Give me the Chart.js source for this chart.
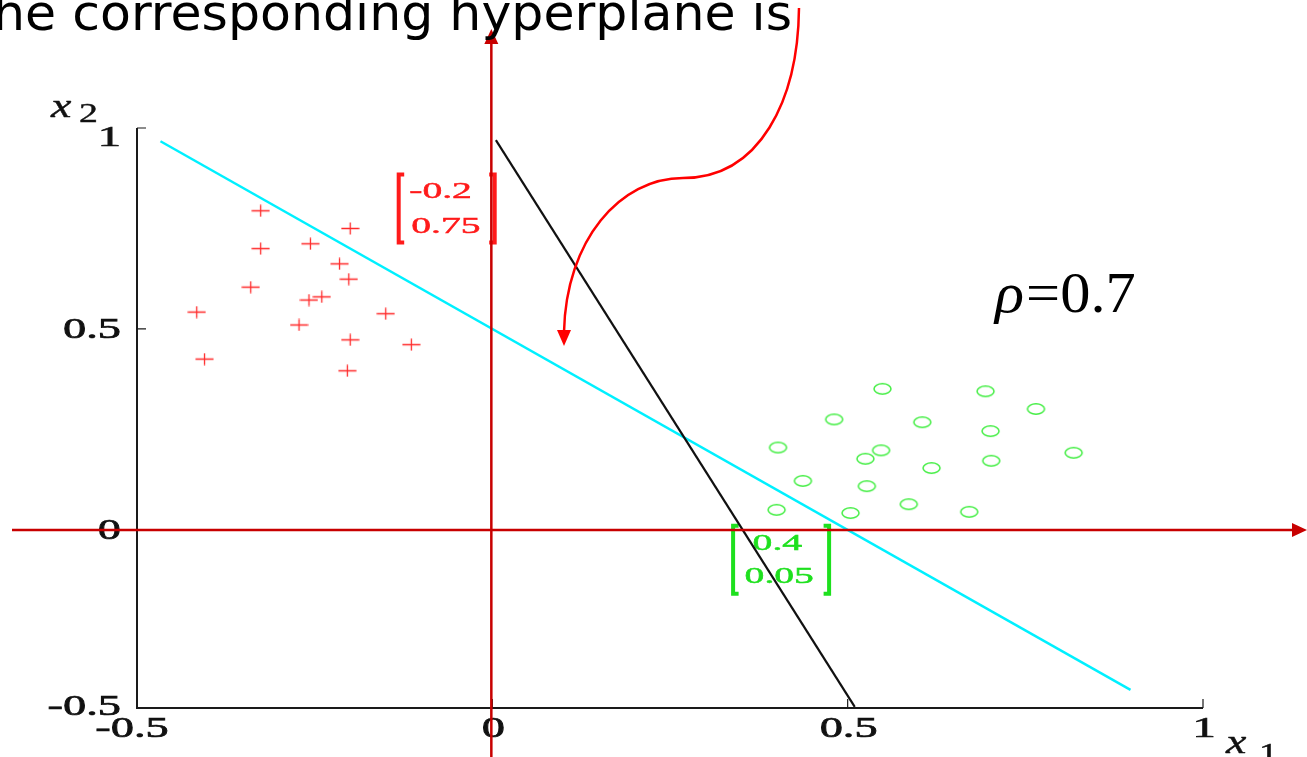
<!DOCTYPE html>
<html>
<head>
<meta charset="utf-8">
<title>Perceptron hyperplane</title>
<script src="https://cdn.jsdelivr.net/npm/chart.js@4/dist/chart.umd.min.js"></script>
<style>
  html, body { margin: 0; padding: 0; background: #ffffff; overflow: hidden; }
  #wrap { position: relative; width: 1307px; height: 757px; }
</style>
</head>
<body>
<div id="wrap"><canvas id="c" width="1307" height="757"></canvas></div>
<script>
// ---- data ----
const classPlusX = [-0.326, -0.2, -0.326, -0.256, -0.215, -0.202, -0.340, -0.258, -0.240, -0.416, -0.150, -0.272, -0.200, -0.114, -0.405, -0.204];
const classPlusY = [0.794, 0.75, 0.700, 0.712, 0.662, 0.624, 0.604, 0.572, 0.580, 0.542, 0.538, 0.510, 0.473, 0.461, 0.425, 0.396];
const classCircleX = [0.549, 0.694, 0.765, 0.481, 0.605, 0.701, 0.402, 0.547, 0.525, 0.818, 0.702, 0.618, 0.437, 0.527, 0.586, 0.4, 0.504, 0.671];
const classCircleY = [0.351, 0.345, 0.301, 0.275, 0.268, 0.246, 0.205, 0.198, 0.177, 0.192, 0.172, 0.154, 0.122, 0.109, 0.064, 0.05, 0.042, 0.045];
// black line: hyperplane found by the algorithm
const hyperplaneX = [0.005, 0.51];
const hyperplaneY = [0.97, -0.44];
// cyan line: x2 = 0.5 - x1
const referenceLineX = [-0.467, 0.898];
const referenceLineY = [0.967, -0.398];
// the two points written out as column vectors
const markedPlus = { x: -0.2, y: 0.75 };
const markedCircle = { x: 0.4, y: 0.05 };
const xTickValues = [-0.5, 0, 0.5, 1];
const yTickValues = [1, 0.5, 0, -0.5];
const xRange = [-0.5, 1];
const yRange = [-0.443, 1];
const rho = 0.7;
const headline = 'he corresponding hyperplane is';

const zip = (xs, ys) => xs.map((x, i) => ({ x: x, y: ys[i] }));

// ---- marker images ----
function plusMarker() {
  const c = document.createElement('canvas');
  c.width = 19; c.height = 13;
  const g = c.getContext('2d');
  g.strokeStyle = '#ff2a2a';
  g.lineWidth = 1.3;
  g.beginPath();
  g.moveTo(0.5, 6.5); g.lineTo(18.5, 6.5);
  g.moveTo(9.5, 0.5); g.lineTo(9.5, 12.5);
  g.stroke();
  return c;
}
function ellipseMarker() {
  const c = document.createElement('canvas');
  c.width = 21; c.height = 14;
  const g = c.getContext('2d');
  g.strokeStyle = '#44ee44';
  g.lineWidth = 1.5;
  g.beginPath();
  g.ellipse(10.5, 7, 8.5, 5.2, 0, 0, Math.PI * 2);
  g.stroke();
  return c;
}

// stretched serif text, as in the exported figure
function stretchedText(ctx, text, x, y, size, sx, align, color, style, weight) {
  ctx.save();
  ctx.translate(x, y);
  ctx.scale(sx, 1);
  ctx.font = (style || '') + ' ' + size + 'px "Liberation Serif", "DejaVu Serif", serif';
  ctx.fillStyle = color;
  ctx.textAlign = align;
  ctx.textBaseline = 'middle';
  ctx.fillText(text, 0, 0);
  if (weight) {
    ctx.strokeStyle = color;
    ctx.lineWidth = weight;
    ctx.strokeText(text, 0, 0);
  }
  ctx.restore();
}

function arrowHead(ctx, tipX, tipY, dirX, dirY, len, half, color) {
  const bx = tipX - dirX * len, by = tipY - dirY * len;
  const px = -dirY, py = dirX;
  ctx.fillStyle = color;
  ctx.beginPath();
  ctx.moveTo(tipX, tipY);
  ctx.lineTo(bx + px * half, by + py * half);
  ctx.lineTo(bx - px * half, by - py * half);
  ctx.closePath();
  ctx.fill();
}

function bracketBox(ctx, left, top, width, height, color, lines, sx) {
  ctx.save();
  ctx.strokeStyle = color;
  ctx.lineWidth = 4;
  ctx.beginPath();
  ctx.moveTo(left + 7, top + 1); ctx.lineTo(left + 1.5, top + 1);
  ctx.lineTo(left + 1.5, top + height - 1); ctx.lineTo(left + 7, top + height - 1);
  const r = left + width;
  ctx.moveTo(r - 7, top + 1); ctx.lineTo(r - 1.5, top + 1);
  ctx.lineTo(r - 1.5, top + height - 1); ctx.lineTo(r - 7, top + height - 1);
  ctx.stroke();
  ctx.restore();
  lines.forEach(l => stretchedText(ctx, l.text, l.x, l.y, 24, sx, 'left', color, '', 0.5));
}

// ---- annotations and overlay drawing ----
const annotationPlugin = {
  id: 'vectorLabels',
  beforeDatasetsDraw(chart) {
    const ctx = chart.ctx, xs = chart.scales.x, ys = chart.scales.y;
    const rx = xs.getPixelForValue(markedPlus.x), ry = ys.getPixelForValue(markedPlus.y);
    bracketBox(ctx, rx + 47, ry - 55, 99, 70, '#ff1a1a', [
      { text: String(markedPlus.x), x: rx + 59, y: ry - 37 },
      { text: String(markedPlus.y), x: rx + 61, y: ry - 2 }
    ], 1.65);
    const gx = xs.getPixelForValue(markedCircle.x), gy = ys.getPixelForValue(markedCircle.y);
    bracketBox(ctx, gx - 45, gy + 15, 99, 70, '#1ee01e', [
      { text: String(markedCircle.x), x: gx - 24, y: gy + 34 },
      { text: String(markedCircle.y), x: gx - 32, y: gy + 67 }
    ], 1.65);
  },
  afterDraw(chart) {
    const ctx = chart.ctx, a = chart.chartArea, xs = chart.scales.x, ys = chart.scales.y;
    ctx.save();
    // axes of the figure
    ctx.strokeStyle = '#1a1a1a';
    ctx.lineWidth = 2;
    ctx.beginPath();
    ctx.moveTo(a.left, a.top); ctx.lineTo(a.left, a.bottom); ctx.lineTo(a.right, a.bottom);
    ctx.stroke();
    ctx.lineWidth = 1.2;
    ctx.beginPath();
    yTickValues.forEach(v => {
      const p = ys.getPixelForValue(v);
      if (p >= a.top - 1 && p <= a.bottom - 2) { ctx.moveTo(a.left, p); ctx.lineTo(a.left + 9, p); }
    });
    xTickValues.forEach(v => {
      const p = xs.getPixelForValue(v);
      if (p > a.left + 2) { ctx.moveTo(p, a.bottom); ctx.lineTo(p, a.bottom - 9); }
    });
    ctx.stroke();
    // tick labels
    yTickValues.forEach(v => {
      const p = Math.min(Math.max(ys.getPixelForValue(v), a.top + 9), a.bottom - 2);
      stretchedText(ctx, String(v), 121, p + 1, 29, 1.6, 'right', '#111', '', 0.7);
    });
    xTickValues.forEach(v => {
      const p = xs.getPixelForValue(v);
      stretchedText(ctx, String(v), v < 0 ? p - 5 : p + 1, a.bottom + 21, 29, 1.6, 'center', '#111', '', 0.7);
    });
    // axis names
    stretchedText(ctx, 'x', 51, 108, 34, 1.35, 'left', '#111', 'italic', 0.4);
    stretchedText(ctx, '2', 79, 115, 27, 1.4, 'left', '#111', '', 0.4);
    stretchedText(ctx, 'x', a.right + 23, a.bottom + 36, 34, 1.35, 'left', '#111', 'italic', 0.4);
    stretchedText(ctx, '1', a.right + 56, a.bottom + 47, 27, 1.4, 'left', '#111', '', 0.4);
    // rho
    ctx.save();
    ctx.translate(995, 312);
    ctx.scale(1.06, 1);
    ctx.fillStyle = '#000';
    ctx.textBaseline = 'alphabetic';
    ctx.textAlign = 'left';
    ctx.font = 'italic 57px "Liberation Serif", serif';
    ctx.fillText('\u03C1', 0, 0);
    const rw = ctx.measureText('\u03C1').width;
    ctx.font = '57px "Liberation Serif", serif';
    ctx.fillText('=' + rho, rw + 2, 0);
    ctx.restore();

    // red coordinate axes through the origin
    const ox = xs.getPixelForValue(0), oy = ys.getPixelForValue(0);
    const dark = '#c80000';
    ctx.strokeStyle = dark;
    ctx.lineWidth = 2.5;
    ctx.beginPath();
    ctx.moveTo(12, oy); ctx.lineTo(1294, oy);
    ctx.moveTo(ox - 1, 757); ctx.lineTo(ox - 1, 42);
    ctx.stroke();
    arrowHead(ctx, 1307, oy, 1, 0, 15, 7, dark);
    arrowHead(ctx, ox - 1, 29, 0, -1, 15, 7, dark);

    // headline text, cut by the top edge
    ctx.font = '50px "DejaVu Sans", Verdana, sans-serif';
    ctx.textBaseline = 'alphabetic';
    ctx.textAlign = 'left';
    const tw = ctx.measureText(headline).width;
    ctx.save();
    ctx.translate(-7, 30);
    ctx.scale(799 / tw, 1);
    ctx.fillStyle = '#000';
    ctx.fillText(headline, 0, 0);
    ctx.restore();

    // curved pointer to the hyperplane
    ctx.strokeStyle = '#ff0000';
    ctx.lineWidth = 2.5;
    ctx.beginPath();
    ctx.moveTo(799, 8);
    ctx.bezierCurveTo(798, 100, 760, 178, 683, 178);
    ctx.bezierCurveTo(620, 178, 566, 240, 564, 332);
    ctx.stroke();
    arrowHead(ctx, 564, 346, 0, 1, 16, 7, '#ff0000');
    ctx.restore();
  }
};

new Chart(document.getElementById('c'), {
  type: 'scatter',
  data: {
    datasets: [
      {
        label: 'hyperplane',
        type: 'line',
        data: zip(hyperplaneX, hyperplaneY),
        borderColor: '#111111',
        borderWidth: 2.2,
        pointRadius: 0,
        showLine: true,
        fill: false
      },
      {
        label: 'x2 = 0.5 - x1',
        type: 'line',
        data: zip(referenceLineX, referenceLineY),
        borderColor: '#00f0ff',
        borderWidth: 2.5,
        pointRadius: 0,
        showLine: true,
        fill: false
      },
      {
        label: 'class +',
        data: zip(classPlusX, classPlusY),
        pointStyle: plusMarker(),
        pointRadius: 9
      },
      {
        label: 'class o',
        data: zip(classCircleX, classCircleY),
        pointStyle: ellipseMarker(),
        pointRadius: 9
      }
    ]
  },
  options: {
    responsive: false,
    animation: false,
    devicePixelRatio: 1,
    layout: { padding: { left: 137, right: 104, top: 128, bottom: 49 } },
    plugins: { legend: { display: false }, tooltip: { enabled: false } },
    scales: {
      x: { type: 'linear', min: xRange[0], max: xRange[1], display: false },
      y: { type: 'linear', min: yRange[0], max: yRange[1], display: false }
    }
  },
  plugins: [annotationPlugin]
});
</script>
</body>
</html>
